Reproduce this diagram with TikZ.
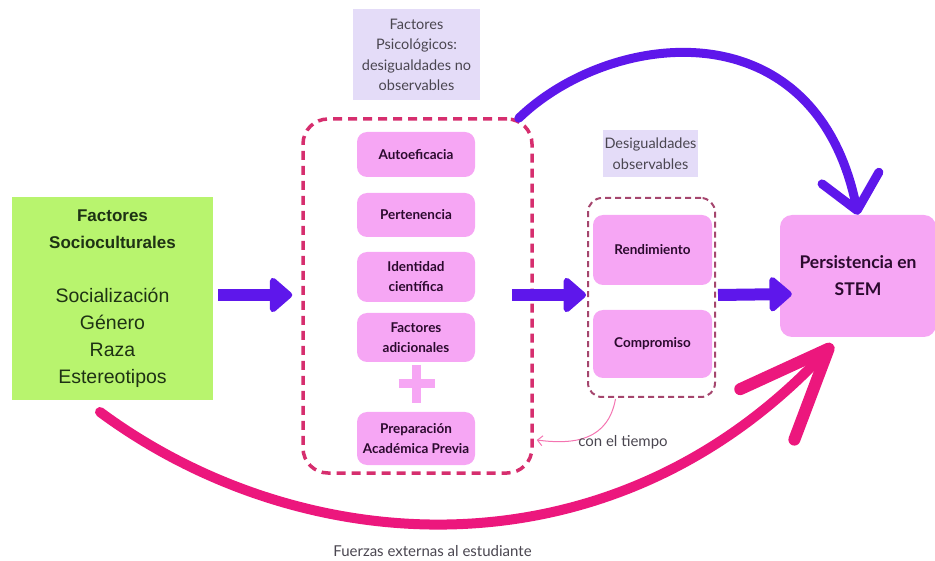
\documentclass[tikz,border=0pt]{standalone}
\usepackage{fontspec}
\setmainfont{Lato}
\newfontfamily\arialfont{Liberation Sans}
\usetikzlibrary{arrows.meta,calc}

\definecolor{limefill}{HTML}{B8F46E}
\definecolor{orchidfill}{HTML}{F6A6F4}
\definecolor{lilacfill}{HTML}{E4DCF8}
\definecolor{flowviolet}{HTML}{5E17EB}
\definecolor{hotpink}{HTML}{EC177D}
\definecolor{dashcrimson}{HTML}{D62E6E}
\definecolor{dashmauve}{HTML}{A5466E}
\definecolor{inkdark}{HTML}{2B0A2E}
\definecolor{inkgreen}{HTML}{1E3214}
\definecolor{notegray}{HTML}{4A4650}

\newcommand\sociohead[1]{\textbf{\fontsize{17}{27}\selectfont #1}}

\tikzset{
  socio/.style={fill=limefill, text=inkgreen, align=center, inner sep=0pt,
    font=\arialfont\fontsize{19.5}{27}\selectfont},
  factor/.style={fill=orchidfill, rounded corners=10pt, minimum width=118pt, align=center,
    inner sep=0pt, text=inkdark, font=\bfseries\fontsize{13.5}{20}\selectfont},
  note/.style={fill=lilacfill, align=center, inner sep=0pt, text=notegray,
    font=\fontsize{14.5}{20.5}\selectfont},
  psybox/.style={draw=dashcrimson, line width=3.5pt, dash pattern=on 9pt off 6pt, rounded corners=25pt},
  obsbox/.style={draw=dashmauve, line width=2pt, dash pattern=on 6pt off 4pt, rounded corners=14pt},
  flow/.style={draw=flowviolet, line width=12pt, -{Triangle[round,length=24pt,width=40pt]}},
  topcurve/.style={draw=flowviolet, line width=9pt, line cap=round, -{Straight Barb[round,length=33pt,width=58pt]}},
  extcurve/.style={draw=hotpink, line width=10pt, line cap=round, -{Straight Barb[round,length=90pt,width=74pt,line width=12pt]}},
  timecurve/.style={draw=hotpink!60, line width=1pt, -{Straight Barb[length=5pt,width=10pt]}},
  plussign/.style={draw=orchidfill, line width=9pt},
  caption/.style={text=notegray, font=\fontsize{15}{18}\selectfont}
}

\begin{document}
\begin{tikzpicture}[x=1pt,y=-1pt]
  \useasboundingbox (0,0) rectangle (935,561);

  % sociocultural factors
  \node[socio, minimum width=201pt, minimum height=203pt] (socio) at (112.5,298.5)
    {\sociohead{Factores}\\\sociohead{Socioculturales}\\[27pt]
     Socialización\\Género\\Raza\\Estereotipos};

  % psychological factors
  \node[note, minimum width=127pt, minimum height=91pt] (psyNote) at (416.5,55)
    {Factores\\Psicológicos:\\desigualdades no\\observables};
  \node[factor, minimum height=45pt] (auto) at (416,154.5) {Autoeficacia};
  \node[factor, minimum height=44pt] (pert) at (416,215) {Pertenencia};
  \node[factor, minimum height=50pt] (ident) at (416,277) {Identidad\\científica};
  \node[factor, minimum height=49pt] (extra) at (416,337.5) {Factores\\adicionales};
  \node[factor, minimum height=53pt] (prep) at (416,438.5) {Preparación\\Académica Previa};
  \coordinate (plus) at (416.5,384);
  \draw[plussign] ($(plus)+(-18,0)$) -- ($(plus)+(18,0)$)
                  ($(plus)+(0,-19)$) -- ($(plus)+(0,19)$);
  \node[psybox, minimum width=229pt, minimum height=354pt] (psy) at (417.5,296) {};

  % observable inequalities
  \node[note, minimum width=95pt, minimum height=47pt] (obsNote) at (650.5,153.5)
    {Desigualdades\\observables};
  \node[factor, minimum width=119pt, minimum height=70pt] (rend) at (652.5,250) {Rendimiento};
  \node[factor, minimum width=119pt, minimum height=68pt] (comp) at (652.5,344) {Compromiso};
  \node[obsbox, minimum width=127pt, minimum height=199pt] (obs) at (651.5,297.5) {};

  % outcome
  \node[factor, minimum width=156pt, minimum height=122pt, rounded corners=12pt,
        font=\bfseries\fontsize{17.5}{27}\selectfont] (stem) at (858,276) {Persistencia en\\STEM};

  % main flow
  \draw[flow] ($(socio.east)+(5,-3.5)$) -- ($(psy.west)+(-9,-1)$);
  \draw[flow] ($(psy.east)+(-22,-1)$) -- ($(obs.west)+(-1,-2.5)$);
  \draw[flow] ($(obs.east)+(2,-2.5)$) -- ($(stem.west)+(12,18)$);

  % direct paths
  \draw[topcurve] ($(psy.north east)+(-15,1)$) .. controls (610,30) and (815,5) .. (stem.north);
  \coordinate (extStart) at (100,412);
  \coordinate (extEnd) at ($(stem.south west)+(53,7)$);
  \draw[extcurve] (extStart) .. controls (300,560) and (610,583) .. (extEnd);
  \node[caption] (extLabel) at (432.5,551) {Fuerzas externas al estudiante};

  % feedback over time
  \draw[timecurve] ($(obs.south)+(-36,1)$) .. controls (608,440) and (575,445) .. ($(psy.east)+(3,144)$);
  \node[caption] (timeLabel) at (623,442) {con el tiempo};
\end{tikzpicture}
\end{document}
